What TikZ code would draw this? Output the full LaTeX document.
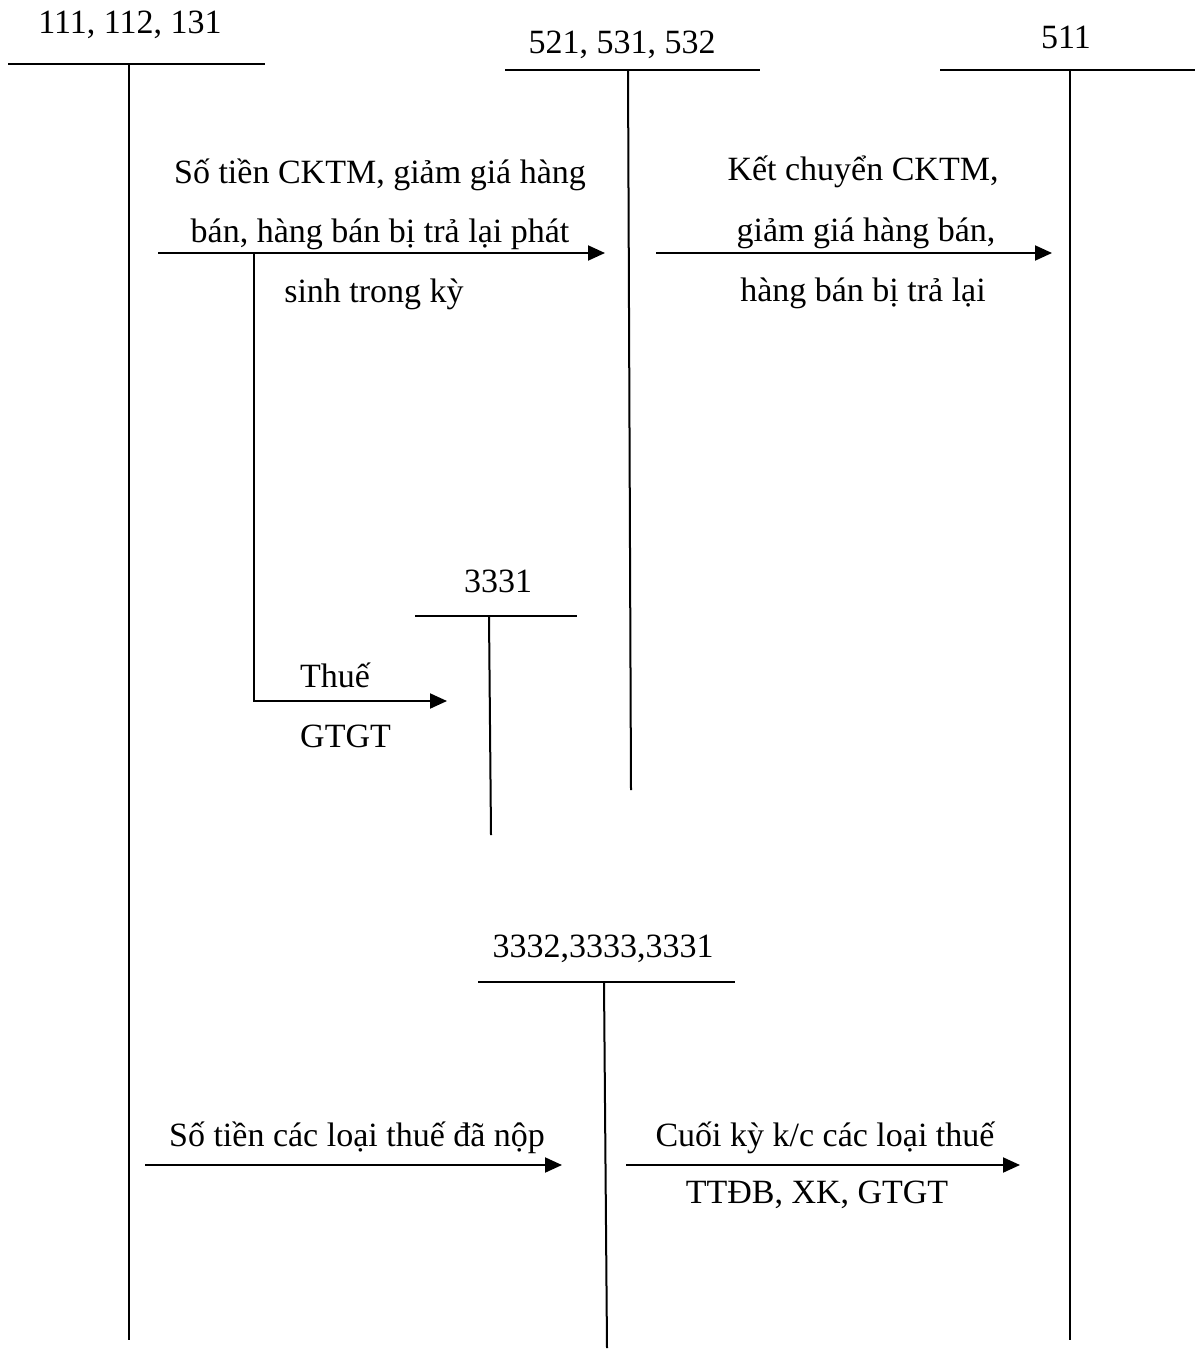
\documentclass[tikz,border=0pt]{standalone}
\usepackage{fontspec}
\setmainfont{Liberation Serif}
\usetikzlibrary{arrows.meta}
\begin{document}
\begin{tikzpicture}[x=1pt,y=-1pt,
  acc/.style={line width=2pt},
  flow/.style={line width=2pt,-{Triangle[length=17pt,width=15pt]}},
  lbl/.style={inner sep=0pt,anchor=base,font=\fontsize{34}{40}\selectfont},
  lbll/.style={inner sep=0pt,anchor=base west,font=\fontsize{34}{40}\selectfont}]
\useasboundingbox (0,0) rectangle (1200,1351);
% account 111,112,131
\node[lbl] (tA) at (130,34) {111, 112, 131};
\coordinate (aL) at (8,64); \coordinate (aR) at (265,64);
\coordinate (aT) at (129,64); \coordinate (aB) at (129,1340);
\draw[acc] (aL) -- (aR); \draw[acc] (aT) -- (aB);
% account 521,531,532
\node[lbl] (tB) at (622,54) {521, 531, 532};
\coordinate (bL) at (505,70); \coordinate (bR) at (760,70);
\coordinate (bT) at (628,70); \coordinate (bB) at (631,790);
\draw[acc] (bL) -- (bR); \draw[acc] (bT) -- (bB);
% account 511
\node[lbl] (tC) at (1066,49) {511};
\coordinate (cL) at (940,70); \coordinate (cR) at (1195,70);
\coordinate (cT) at (1070,70); \coordinate (cB) at (1070,1340);
\draw[acc] (cL) -- (cR); \draw[acc] (cT) -- (cB);
% account 3331
\node[lbl] (tD) at (498,592) {3331};
\coordinate (dL) at (415,616); \coordinate (dR) at (577,616);
\coordinate (dT) at (489,616); \coordinate (dB) at (491,835);
\draw[acc] (dL) -- (dR); \draw[acc] (dT) -- (dB);
% account 3332,3333,3331
\node[lbl] (tE) at (603,957) {3332,3333,3331};
\coordinate (eL) at (478,982); \coordinate (eR) at (735,982);
\coordinate (eT) at (604,982); \coordinate (eB) at (607,1348);
\draw[acc] (eL) -- (eR); \draw[acc] (eT) -- (eB);
% arrow 1
\coordinate (f1s) at (158,253); \coordinate (f1e) at (605,253);
\draw[flow] (f1s) -- (f1e);
\node[lbl] (t1a) at (380,183) {Số tiền CKTM, giảm giá hàng};
\node[lbl] (t1b) at (380,242) {bán, hàng bán bị trả lại phát};
\node[lbl] (t1c) at (374,302) {sinh trong kỳ};
% branch to 3331
\coordinate (gs) at (254,253); \coordinate (gc) at (254,701); \coordinate (ge) at (447,701);
\draw[flow] (gs) -- (gc) -- (ge);
\node[lbll] (t2a) at (300,687) {Thuế};
\node[lbll] (t2b) at (300,747) {GTGT};
% arrow 2
\coordinate (f2s) at (656,253); \coordinate (f2e) at (1052,253);
\draw[flow] (f2s) -- (f2e);
\node[lbl] (t3a) at (863,181) {Kết chuyển CKTM,};
\node[lbl] (t3b) at (866,241) {giảm giá hàng bán,};
\node[lbl] (t3c) at (863,301) {hàng bán bị trả lại};
% arrow 3
\coordinate (f3s) at (145,1165); \coordinate (f3e) at (562,1165);
\draw[flow] (f3s) -- (f3e);
\node[lbl] (t4) at (357,1146) {Số tiền các loại thuế đã nộp};
% arrow 4
\coordinate (f4s) at (626,1165); \coordinate (f4e) at (1020,1165);
\draw[flow] (f4s) -- (f4e);
\node[lbl] (t5a) at (825,1146) {Cuối kỳ k/c các loại thuế};
\node[lbl] (t5b) at (817,1203) {TTĐB, XK, GTGT};
\end{tikzpicture}
\end{document}
